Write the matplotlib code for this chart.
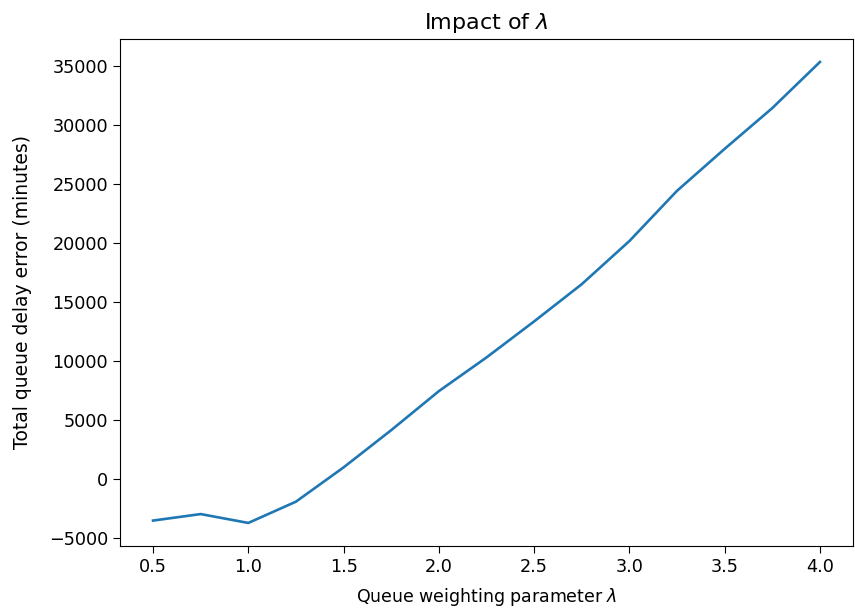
import matplotlib
matplotlib.use("Agg")
import matplotlib.pyplot as plt

lambdas = [0.5, 0.75, 1.0, 1.25, 1.5, 1.75, 2.0, 2.25, 2.5, 2.75, 3.0, 3.25, 3.5, 3.75, 4.0]
delay_error = [-3500, -2950, -3700, -1900, 1000, 4150, 7450, 10300, 13350, 16500, 20150, 24400, 27950, 31400, 35300]

plt.rcParams["font.size"] = 12.7

fig, ax = plt.subplots(figsize=(8.55, 6.08), dpi=100)
fig.subplots_adjust(left=0.140, right=0.998, top=0.936, bottom=0.102)

ax.plot(lambdas, delay_error, color="#1f77b4", linewidth=1.9)
ax.tick_params(length=5)
ax.set_xlabel(r"Queue weighting parameter $\lambda$", fontsize=12.5, labelpad=7)
ax.set_ylabel("Total queue delay error (minutes)", fontsize=13.5, labelpad=12)
ax.set_title(r"Impact of $\lambda$", fontsize=16, pad=7)

fig.savefig("out.png")
